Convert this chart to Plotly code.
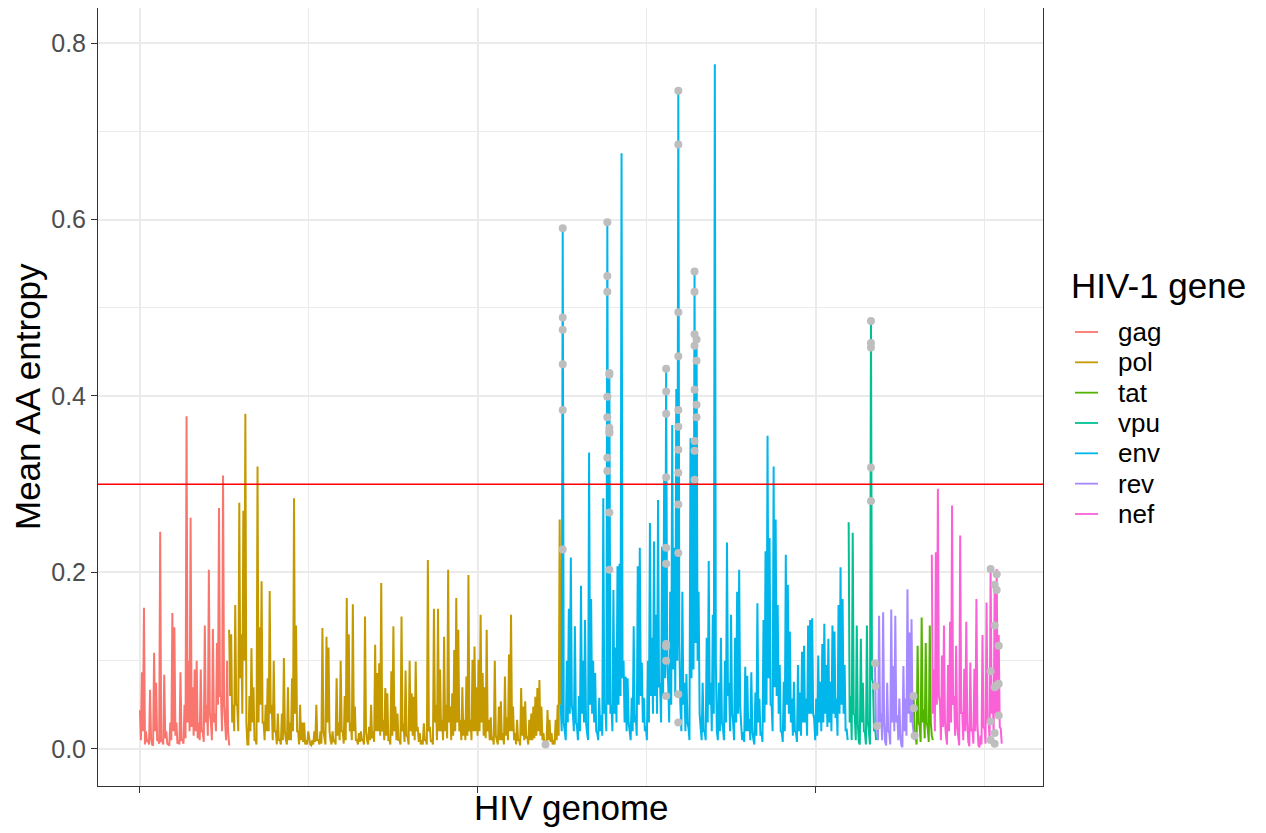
import plotly.graph_objects as go

STEP = 3  # genome positions between consecutive entropy values (peak, trough, peak, ...)

gene_order = ["gag", "pol", "tat", "vpu", "env", "rev", "nef"]
gene_colors = ["#F8766D", "#C49A00", "#53B400", "#00C094", "#00B6EB", "#A58AFF", "#FB61D7"]
gene_start = {"gag": 0, "pol": 264, "env": 1245, "vpu": 2097, "rev": 2175, "tat": 2289, "nef": 2343}

# local maxima (every second position)
gag_peaks = [0.044, 0.087, 0.16, 0.02, 0.01, 0.067, 0.005, 0.109, 0.075, 0.01,
             0.246, 0.01, 0.084, 0.02, 0.005, 0.03, 0.154, 0.138, 0.03, 0.01,
             0.087, 0.01, 0.05, 0.377, 0.1, 0.262, 0.07, 0.09, 0.1, 0.03,
             0.09, 0.02, 0.14, 0.05, 0.203, 0.03, 0.136, 0.04, 0.12, 0.273,
             0.06, 0.31, 0.03, 0.1, 0.005]
# local minima between them
gag_lows = [0.01, 0.02, 0.005, 0.008, 0.005, 0.012, 0.004, 0.02, 0.01, 0.006,
            0.008, 0.005, 0.012, 0.006, 0.004, 0.01, 0.02, 0.015, 0.006, 0.005,
            0.01, 0.006, 0.012, 0.03, 0.02, 0.025, 0.015, 0.02, 0.012, 0.01,
            0.02, 0.008, 0.03, 0.015, 0.04, 0.01, 0.03, 0.02, 0.05, 0.06,
            0.02, 0.05, 0.01, 0.02, 0.005]

pol_peaks = [0.135, 0.13, 0.05, 0.163, 0.05, 0.279, 0.13, 0.27, 0.38, 0.005,
             0.06, 0.114, 0.07, 0.01, 0.32, 0.138, 0.19, 0.03, 0.05, 0.08,
             0.179, 0.05, 0.1, 0.02, 0.04, 0.01, 0.04, 0.103, 0.01, 0.07,
             0.03, 0.08, 0.284, 0.14, 0.02, 0.05, 0.03, 0.03, 0.01, 0.02,
             0.005, 0.01, 0.02, 0.05, 0.01, 0.02, 0.137, 0.01, 0.127, 0.115,
             0.01, 0.02, 0.01, 0.08, 0.03, 0.1, 0.02, 0.06, 0.171, 0.13,
             0.03, 0.164, 0.048, 0.01, 0.018, 0.02, 0.01, 0.15, 0.01, 0.025,
             0.05, 0.02, 0.118, 0.086, 0.097, 0.188, 0.033, 0.069, 0.063, 0.01,
             0.088, 0.139, 0.048, 0.04, 0.01, 0.15, 0.029, 0.089, 0.014, 0.1,
             0.063, 0.059, 0.099, 0.025, 0.018, 0.01, 0.029, 0.01, 0.214, 0.025,
             0.01, 0.159, 0.05, 0.159, 0.09, 0.033, 0.127, 0.05, 0.203, 0.048,
             0.063, 0.112, 0.171, 0.135, 0.033, 0.07, 0.033, 0.082, 0.197, 0.033,
             0.101, 0.116, 0.07, 0.101, 0.152, 0.086, 0.07, 0.135, 0.033, 0.036,
             0.014, 0.1, 0.01, 0.048, 0.054, 0.018, 0.082, 0.036, 0.107, 0.152,
             0.048, 0.018, 0.033, 0.01, 0.069, 0.048, 0.054, 0.014, 0.033, 0.04,
             0.048, 0.059, 0.069, 0.078, 0.048, 0.018, 0.005, 0.044, 0.033, 0.018,
             0.01, 0.033, 0.05, 0.26]
pol_lows = [0.06, 0.03, 0.02, 0.05, 0.02, 0.08, 0.04, 0.1, 0.03, 0.005,
            0.02, 0.03, 0.01, 0.005, 0.03, 0.05, 0.03, 0.01, 0.02, 0.02,
            0.04, 0.01, 0.02, 0.005, 0.01, 0.005, 0.01, 0.02, 0.005, 0.01,
            0.01, 0.02, 0.04, 0.02, 0.005, 0.01, 0.008, 0.005, 0.005, 0.01,
            0.004, 0.005, 0.008, 0.01, 0.005, 0.006, 0.02, 0.005, 0.03, 0.02,
            0.005, 0.008, 0.005, 0.015, 0.01, 0.02, 0.006, 0.01, 0.03, 0.02,
            0.01, 0.02, 0.01, 0.005, 0.008, 0.01, 0.005, 0.02, 0.005, 0.01,
            0.012, 0.008, 0.02, 0.02, 0.015, 0.02, 0.01, 0.015, 0.01, 0.005,
            0.015, 0.02, 0.01, 0.01, 0.005, 0.02, 0.008, 0.015, 0.005, 0.02,
            0.015, 0.01, 0.02, 0.008, 0.005, 0.005, 0.01, 0.005, 0.02, 0.008,
            0.005, 0.03, 0.01, 0.02, 0.02, 0.01, 0.02, 0.012, 0.03, 0.01,
            0.015, 0.02, 0.03, 0.02, 0.01, 0.015, 0.01, 0.015, 0.02, 0.01,
            0.02, 0.02, 0.015, 0.02, 0.03, 0.015, 0.012, 0.02, 0.01, 0.01,
            0.005, 0.015, 0.005, 0.01, 0.01, 0.005, 0.015, 0.01, 0.02, 0.02,
            0.01, 0.005, 0.01, 0.004, 0.015, 0.01, 0.012, 0.005, 0.01, 0.01,
            0.012, 0.015, 0.02, 0.015, 0.01, 0.005, 0.004, 0.01, 0.008, 0.005,
            0.005, 0.01, 0.015, 0.05]

env_peaks = [0.05, 0.59, 0.02, 0.1, 0.159, 0.217, 0.04, 0.139, 0.026, 0.06,
             0.185, 0.1, 0.146, 0.018, 0.336, 0.17, 0.1, 0.086, 0.018, 0.058,
             0.038, 0.284, 0.05, 0.597, 0.426, 0.05, 0.18, 0.115, 0.207, 0.21,
             0.675, 0.1, 0.082, 0.08, 0.02, 0.058, 0.139, 0.038, 0.207, 0.228,
             0.098, 0.058, 0.026, 0.1, 0.256, 0.126, 0.235, 0.152, 0.282, 0.075,
             0.229, 0.305, 0.431, 0.075, 0.178, 0.367, 0.228, 0.408, 0.746, 0.05,
             0.178, 0.075, 0.085, 0.024, 0.352, 0.347, 0.541, 0.46, 0.178, 0.024,
             0.075, 0.02, 0.126, 0.213, 0.075, 0.152, 0.776, 0.02, 0.075, 0.126,
             0.024, 0.1, 0.234, 0.075, 0.152, 0.03, 0.126, 0.178, 0.203, 0.027,
             0.019, 0.093, 0.083, 0.034, 0.087, 0.011, 0.064, 0.165, 0.057, 0.019,
             0.146, 0.224, 0.355, 0.239, 0.05, 0.32, 0.26, 0.163, 0.095, 0.019,
             0.076, 0.22, 0.186, 0.133, 0.057, 0.076, 0.019, 0.095, 0.064, 0.11,
             0.117, 0.057, 0.14, 0.146, 0.148, 0.034, 0.057, 0.106, 0.076, 0.119,
             0.142, 0.095, 0.125, 0.076, 0.14, 0.133, 0.057, 0.163, 0.206, 0.17,
             0.095, 0.023]
env_lows = [0.02, 0.03, 0.01, 0.03, 0.04, 0.05, 0.02, 0.03, 0.01, 0.02,
            0.04, 0.03, 0.03, 0.01, 0.05, 0.04, 0.03, 0.02, 0.01, 0.02,
            0.015, 0.04, 0.02, 0.05, 0.04, 0.02, 0.04, 0.03, 0.05, 0.06,
            0.08, 0.03, 0.02, 0.03, 0.01, 0.02, 0.03, 0.015, 0.05, 0.06,
            0.03, 0.02, 0.01, 0.03, 0.06, 0.04, 0.06, 0.04, 0.07, 0.03,
            0.06, 0.08, 0.1, 0.03, 0.05, 0.09, 0.06, 0.1, 0.12, 0.02,
            0.05, 0.02, 0.03, 0.01, 0.08, 0.09, 0.12, 0.1, 0.04, 0.01,
            0.02, 0.01, 0.03, 0.05, 0.02, 0.04, 0.1, 0.01, 0.02, 0.03,
            0.01, 0.03, 0.06, 0.02, 0.04, 0.01, 0.03, 0.04, 0.05, 0.01,
            0.008, 0.02, 0.02, 0.01, 0.02, 0.005, 0.015, 0.03, 0.015, 0.008,
            0.03, 0.05, 0.08, 0.05, 0.02, 0.07, 0.06, 0.04, 0.02, 0.008,
            0.02, 0.05, 0.04, 0.03, 0.015, 0.02, 0.008, 0.02, 0.015, 0.03,
            0.03, 0.015, 0.04, 0.04, 0.04, 0.01, 0.015, 0.03, 0.02, 0.03,
            0.04, 0.025, 0.03, 0.02, 0.04, 0.035, 0.015, 0.04, 0.05, 0.04,
            0.02, 0.01]

vpu_peaks = [0.257, 0.06, 0.245, 0.038, 0.14, 0.008, 0.125, 0.075, 0.019, 0.14,
             0.019, 0.485, 0.075, 0.026]
vpu_lows = [0.03, 0.01, 0.04, 0.01, 0.03, 0.005, 0.03, 0.02, 0.005, 0.03,
            0.005, 0.08, 0.02, 0.01]

rev_peaks = [0.097, 0.026, 0.151, 0.04, 0.155, 0.008, 0.075, 0.019, 0.158, 0.094,
             0.151, 0.038, 0.057, 0.004, 0.094, 0.057, 0.181, 0.132, 0.147, 0.019]
rev_lows = [0.02, 0.01, 0.03, 0.01, 0.03, 0.004, 0.02, 0.005, 0.03, 0.02,
            0.03, 0.01, 0.015, 0.002, 0.02, 0.015, 0.04, 0.03, 0.03, 0.01]

tat_peaks = [0.06, 0.015, 0.117, 0.026, 0.149, 0.045, 0.12, 0.023, 0.14, 0.015]
tat_lows = [0.02, 0.005, 0.03, 0.008, 0.03, 0.012, 0.03, 0.008, 0.03, 0.01]

nef_peaks = [0.22, 0.09, 0.223, 0.295, 0.053, 0.106, 0.14, 0.015, 0.095, 0.144,
             0.276, 0.06, 0.117, 0.015, 0.242, 0.042, 0.091, 0.144, 0.008, 0.098,
             0.023, 0.091, 0.17, 0.004, 0.015, 0.129, 0.023, 0.166, 0.034, 0.206,
             0.07, 0.189, 0.204, 0.129, 0.023]
nef_lows = [0.04, 0.02, 0.05, 0.06, 0.01, 0.025, 0.03, 0.005, 0.02, 0.03,
            0.05, 0.015, 0.025, 0.004, 0.04, 0.01, 0.02, 0.03, 0.003, 0.02,
            0.006, 0.02, 0.03, 0.002, 0.005, 0.025, 0.006, 0.03, 0.01, 0.04,
            0.015, 0.04, 0.04, 0.025, 0.006]

peaks = {"gag": gag_peaks, "pol": pol_peaks, "tat": tat_peaks, "vpu": vpu_peaks,
         "env": env_peaks, "rev": rev_peaks, "nef": nef_peaks}
lows = {"gag": gag_lows, "pol": pol_lows, "tat": tat_lows, "vpu": vpu_lows,
        "env": env_lows, "rev": rev_lows, "nef": nef_lows}

# highlighted (grey) sites: genome position and the entropy values found there
hot_sites = [1200, 1251, 1383, 1389, 1557, 1593, 1641, 1647, 2163,
             2175, 2176, 2181, 2289, 2290, 2292, 2517, 2529, 2535, 2541]
hot_values = [
    [0.005],
    [0.59, 0.489, 0.475, 0.436, 0.384, 0.226],
    [0.597, 0.536, 0.518, 0.399, 0.376, 0.33, 0.315],
    [0.426, 0.424, 0.364, 0.36, 0.358, 0.268, 0.203],
    [0.431, 0.405, 0.38, 0.308, 0.228, 0.21, 0.119, 0.116, 0.1, 0.06],
    [0.746, 0.685, 0.495, 0.445, 0.384, 0.365, 0.339, 0.313, 0.277, 0.222, 0.062, 0.03],
    [0.541, 0.518, 0.47, 0.457, 0.407, 0.349, 0.338, 0.305],
    [0.464, 0.44, 0.39, 0.376],
    [0.485, 0.46, 0.455, 0.319, 0.281],
    [0.097], [0.071], [0.026],
    [0.06], [0.046], [0.015],
    [0.204, 0.088, 0.031, 0.01],
    [0.186, 0.14, 0.07, 0.018, 0.006],
    [0.198, 0.18, 0.072],
    [0.117, 0.074, 0.038],
]

threshold = 0.3
y_tick_vals = [0.0, 0.2, 0.4, 0.6, 0.8]
y_tick_text = ["0.0", "0.2", "0.4", "0.6", "0.8"]
y_minor_vals = [0.1, 0.3, 0.5, 0.7]
x_tick_vals = [0, 1000, 2000]
x_minor_vals = [500, 1500, 2500]

FONT = "Liberation Sans, Arial, Helvetica, sans-serif"

# figure geometry (page has an 8px body margin)
W, H = 1258, 825
ML, MR, MT, MB = 90, 223, 0, 47
PW, PH = W - ML - MR, H - MT - MB


def paper_x(page_x):
    return (page_x - 8 - ML) / PW


def paper_y(page_y):
    return (PH + MT - (page_y - 8)) / PH


fig = go.Figure()
for name, color in zip(gene_order, gene_colors):
    series = []
    for p, lo in zip(peaks[name], lows[name]):
        series += [p, lo]
    xs = [gene_start[name] + STEP * i for i in range(len(series))]
    fig.add_trace(go.Scatter(x=xs, y=series, mode="lines", name=name, showlegend=False,
                             line=dict(color=color, width=2.0)))

px_, py_ = [], []
for s, vs in zip(hot_sites, hot_values):
    for v in vs:
        px_.append(s)
        py_.append(v)
fig.add_trace(go.Scatter(x=px_, y=py_, mode="markers", showlegend=False,
                         marker=dict(color="#BEBEBE", size=8, line=dict(width=0))))

fig.add_hline(y=threshold, line_color="#FF0000", line_width=1.5, layer="above")

axis_common = dict(showline=True, mirror=True, linecolor="#333333", linewidth=1,
                   ticks="outside", ticklen=6, tickcolor="#333333", tickwidth=1,
                   zeroline=False, gridcolor="#EBEBEB", gridwidth=1.5)

fig.update_xaxes(range=[-124, 2672], tickvals=x_tick_vals, showticklabels=False,
                 minor=dict(tickvals=x_minor_vals, showgrid=True, gridcolor="#EBEBEB",
                            gridwidth=0.8, ticks=""),
                 **axis_common)
fig.update_yaxes(range=[-0.042, 0.8397], tickvals=y_tick_vals, ticktext=y_tick_text,
                 tickfont=dict(family=FONT, size=25, color="#4D4D4D"),
                 minor=dict(tickvals=y_minor_vals, showgrid=True, gridcolor="#EBEBEB",
                            gridwidth=0.8, ticks=""),
                 **axis_common)

fig.add_annotation(text="Mean AA entropy", textangle=-90, xref="paper", yref="paper",
                   x=paper_x(27), y=paper_y(397), xanchor="center", yanchor="middle",
                   showarrow=False, font=dict(family=FONT, size=35, color="#000000"))
fig.add_annotation(text="HIV genome", xref="paper", yref="paper",
                   x=paper_x(571), y=paper_y(807), xanchor="center", yanchor="middle",
                   showarrow=False, font=dict(family=FONT, size=35, color="#000000"))

# legend (title, key lines and labels)
fig.add_annotation(text="HIV-1 gene", xref="paper", yref="paper",
                   x=paper_x(1069), y=paper_y(285), xanchor="left", yanchor="middle",
                   showarrow=False, font=dict(family=FONT, size=35, color="#000000"))
for k, (name, color) in enumerate(zip(gene_order, gene_colors)):
    yk = 332 + 30.33 * k
    fig.add_shape(type="line", xref="paper", yref="paper",
                  x0=paper_x(1075), x1=paper_x(1098), y0=paper_y(yk), y1=paper_y(yk),
                  line=dict(color=color, width=1.8))
    fig.add_annotation(text=name, xref="paper", yref="paper",
                       x=paper_x(1116), y=paper_y(yk), xanchor="left", yanchor="middle",
                       showarrow=False, font=dict(family=FONT, size=26, color="#000000"))

fig.update_layout(
    width=W, height=H,
    margin=dict(l=ML, r=MR, t=MT, b=MB),
    paper_bgcolor="white", plot_bgcolor="white",
    font=dict(family=FONT),
    showlegend=False,
)

fig.write_html("out.html")
